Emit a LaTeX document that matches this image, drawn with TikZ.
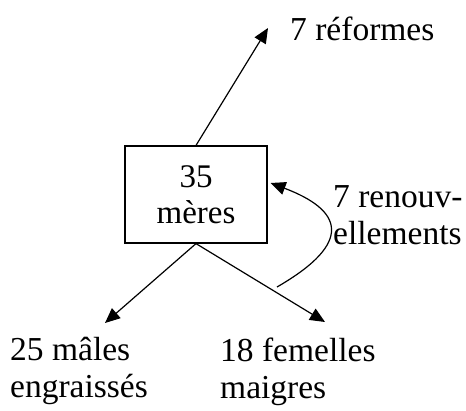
\documentclass[tikz,border=0pt]{standalone}
\usepackage{fontspec}
\setmainfont{Liberation Serif}
\usepackage{tikz}
\usetikzlibrary{arrows.meta, positioning, calc}
\tikzset{
  boite/.style={rectangle, draw=black, line width=1.2pt, minimum width=142pt,
                minimum height=97pt, align=center, inner sep=0pt,
                font=\fontsize{33}{36.5}\selectfont},
  etiq/.style={inner sep=0pt, align=left, font=\fontsize{33.5}{37}\selectfont},
  fleche/.style={-{Triangle[length=15pt, width=13pt]}, line width=1.2pt}
}
\begin{document}
\begin{tikzpicture}[x=1pt, y=1pt]
    \useasboundingbox (0,0) rectangle (466,410);
    \node[boite] (mere) at (196,215.5) {35\\mères};
    \node[etiq, anchor=base west] (reformes) at (290,369) {7 réformes};
    \node[etiq, anchor=base west] (males) at (10,13) {25 mâles\\engraissés};
    \node[etiq, anchor=base west] (femelles) at (220,12) {18 femelles\\maigres};
    \node[etiq, anchor=base west] (renouv) at (333,165) {7 renouv-\\ellements};
    \coordinate (depart) at (277,123);
    \draw[fleche] (mere.north) -- ([xshift=-22pt, yshift=13pt]reformes.base west);
    \draw[fleche] (mere.south) -- ([xshift=95pt, yshift=74pt]males.base west);
    \draw[fleche] (mere.south) -- ([xshift=105pt, yshift=76pt]femelles.base west);
    \draw[fleche] (depart) .. controls (355,168) and (342,200)
      .. ([xshift=3pt, yshift=11.5pt]mere.east);
  \end{tikzpicture}
\end{document}
